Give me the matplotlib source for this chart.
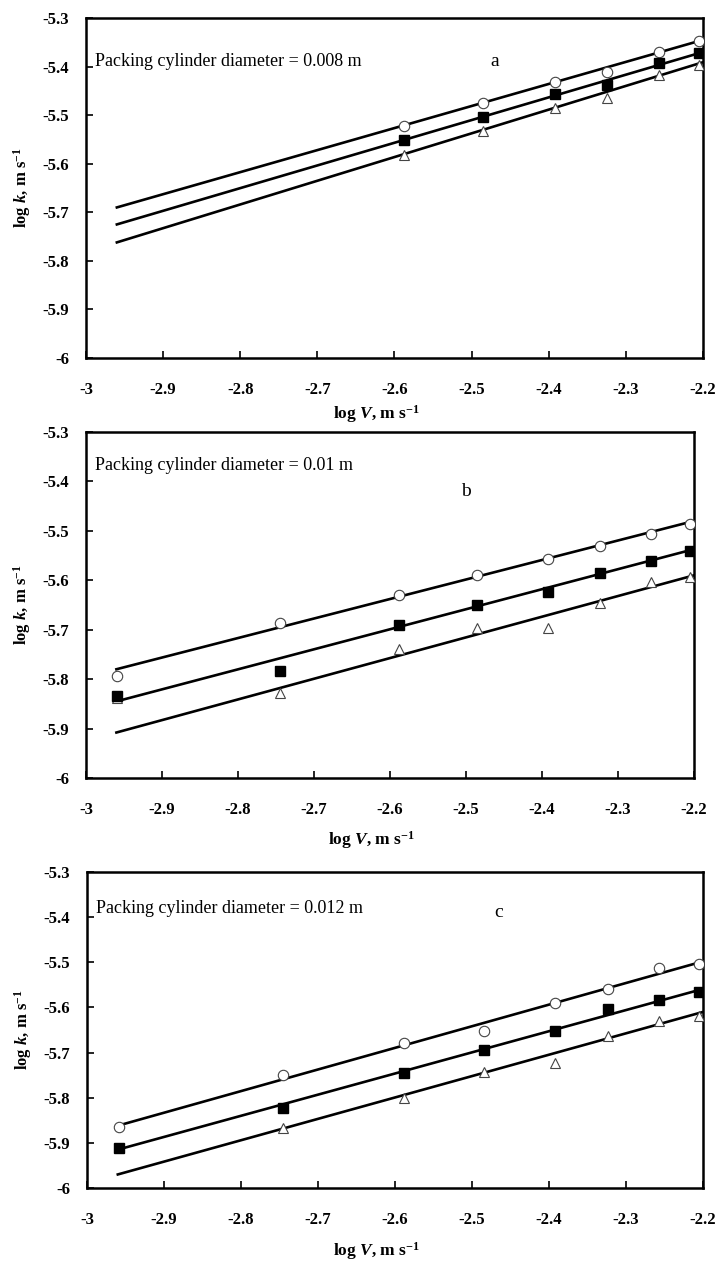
import numpy as np
import matplotlib
matplotlib.use("Agg")
import matplotlib.pyplot as plt

plt.rcParams['font.family'] = ['Liberation Serif', 'DejaVu Serif']
plt.rcParams['mathtext.fontset'] = 'custom'
plt.rcParams['mathtext.rm'] = 'Liberation Serif'
plt.rcParams['mathtext.it'] = 'Liberation Serif:italic'
plt.rcParams['mathtext.bf'] = 'Liberation Serif:bold'
plt.rcParams['mathtext.bfit'] = 'Liberation Serif:bold:italic'

# log V values (m/s)
logV = [-2.959, -2.745, -2.588, -2.485, -2.392, -2.324, -2.257, -2.205]

# panel a (packing cylinder diameter 0.008 m): only the six highest velocities
a_x = logV[2:]
a_circle = [-5.522, -5.475, -5.432, -5.412, -5.370, -5.348]
a_square = [-5.552, -5.503, -5.457, -5.437, -5.393, -5.372]
a_triangle = [-5.583, -5.532, -5.486, -5.464, -5.418, -5.396]

# panel b (0.01 m)
b_x = logV
b_circle = [-5.793, -5.686, -5.629, -5.590, -5.556, -5.531, -5.506, -5.486]
b_square = [-5.834, -5.783, -5.690, -5.649, -5.624, -5.585, -5.560, -5.540]
b_triangle = [-5.838, -5.828, -5.740, -5.696, -5.696, -5.646, -5.604, -5.593]

# panel c (0.012 m)
c_x = logV
c_circle = [-5.864, -5.750, -5.678, -5.653, -5.591, -5.559, -5.513, -5.503]
c_square = [-5.911, -5.822, -5.746, -5.694, -5.653, -5.604, -5.583, -5.565]
c_triangle = [None, -5.868, -5.800, -5.742, -5.722, -5.663, -5.630, -5.620]

# fitted lines, end points
fit_x = [-2.96, -2.2]
a_fits = [[-5.690, -5.345], [-5.725, -5.370], [-5.762, -5.391]]
b_fits = [[-5.780, -5.480], [-5.845, -5.537], [-5.908, -5.590]]
c_fits = [[-5.862, -5.498], [-5.915, -5.559], [-5.970, -5.610]]

labels = ["Packing cylinder diameter = 0.008 m",
          "Packing cylinder diameter = 0.01 m",
          "Packing cylinder diameter = 0.012 m"]
letters = ["a", "b", "c"]

W, H = 717, 1263
fig = plt.figure(figsize=(W / 100, H / 100), dpi=100)

# axes boxes in pixels: left, top, right, bottom
boxes = [(86, 18, 703, 358), (86, 432, 694, 778), (87, 872, 703, 1188)]
letter_pos = [(-2.47, -5.39), (-2.50, -5.42), (-2.465, -5.39)]
text_y = [-5.39, -5.367, -5.38]
xlabelpads = [4, 8, 9]

panels = [
    (a_x, a_circle, a_square, a_triangle, a_fits),
    (b_x, b_circle, b_square, b_triangle, b_fits),
    (c_x, c_circle, c_square, c_triangle, c_fits),
]

for i, (xs, circ, sq, tri, fits) in enumerate(panels):
    l, t, r, b = boxes[i]
    ax = fig.add_axes([l / W, 1 - b / H, (r - l) / W, (b - t) / H])

    for f in fits:
        ax.plot(fit_x, f, color='black', lw=1.9, zorder=2)

    tx = [x for x, y in zip(xs, tri) if y is not None]
    ty = [y for y in tri if y is not None]
    ax.plot(tx, ty, ls='none', marker='^', ms=7.5, mfc='white', mec='#444444',
            mew=0.8, zorder=3)
    ax.plot(xs, circ, ls='none', marker='o', ms=7.5, mfc='white', mec='#444444',
            mew=0.8, zorder=3)
    ax.plot(xs, sq, ls='none', marker='s', ms=7.5, mfc='black', mec='black',
            zorder=4)

    ax.set_xlim(-3, -2.2)
    ax.set_ylim(-6, -5.3)
    ax.set_xticks(np.arange(-3, -2.19, 0.1))
    ax.set_yticks(np.arange(-6, -5.29, 0.1))
    ax.set_xticklabels(['-3', '-2.9', '-2.8', '-2.7', '-2.6', '-2.5', '-2.4', '-2.3', '-2.2'])
    ax.set_yticklabels(['-6', '-5.9', '-5.8', '-5.7', '-5.6', '-5.5', '-5.4', '-5.3'])
    ax.tick_params(axis='x', direction='in', length=5, width=1.2, pad=17,
                   labelsize=12)
    ax.tick_params(axis='y', direction='in', length=5, width=1.2, pad=12,
                   labelsize=12)
    for lab in ax.get_xticklabels() + ax.get_yticklabels():
        lab.set_fontweight('bold')
    for s in ax.spines.values():
        s.set_linewidth(1.8)

    ax.set_xlabel('log $\\mathbfit{V}$, m s$^{\\mathbf{-1}}$', fontsize=12.5,
                  fontweight='bold', labelpad=xlabelpads[i])
    ax.xaxis.label.set_x(0.47)
    ax.set_ylabel('log $\\mathbfit{k}$, m s$^{\\mathbf{-1}}$', fontsize=12,
                  fontweight='bold', labelpad=7)

    ax.text(0.015, text_y[i], labels[i], transform=ax.get_yaxis_transform(),
            fontsize=13, va='center', ha='left')
    ax.text(letter_pos[i][0], letter_pos[i][1], letters[i], fontsize=14,
            va='center', ha='center')

fig.savefig('out.png', dpi=100)
